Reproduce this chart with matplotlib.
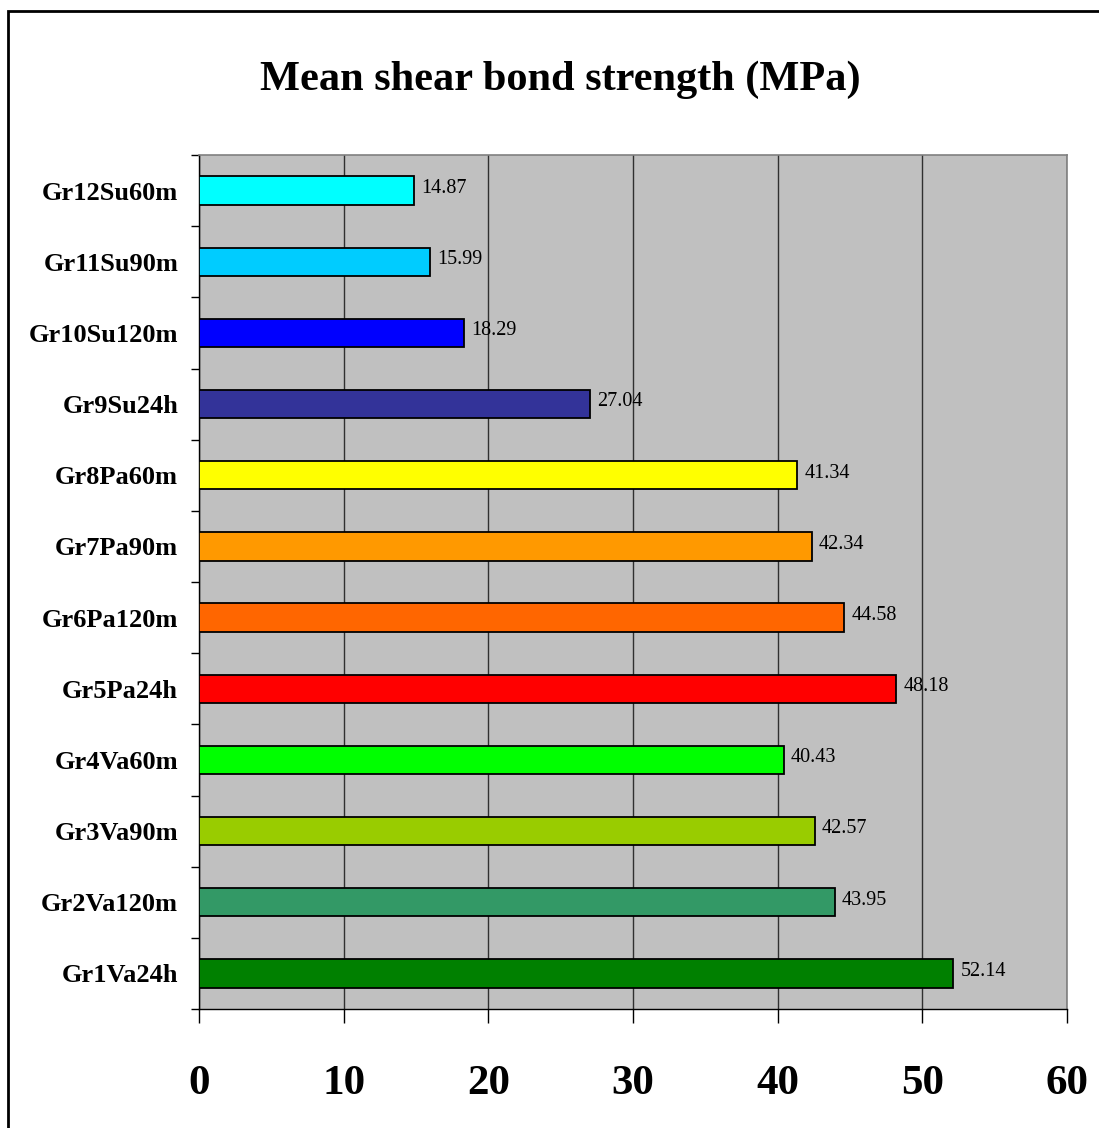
import matplotlib
matplotlib.use("Agg")
import matplotlib.pyplot as plt
from matplotlib.patches import Rectangle
import numpy as np

# groups listed bottom to top
groups = ["Gr1Va24h", "Gr2Va120m", "Gr3Va90m", "Gr4Va60m",
          "Gr5Pa24h", "Gr6Pa120m", "Gr7Pa90m", "Gr8Pa60m",
          "Gr9Su24h", "Gr10Su120m", "Gr11Su90m", "Gr12Su60m"]
strength = [52.14, 43.95, 42.57, 40.43,
            48.18, 44.58, 42.34, 41.34,
            27.04, 18.29, 15.99, 14.87]
colors = ["#008000", "#339966", "#99CC00", "#00FF00",
          "#FF0000", "#FF6600", "#FF9900", "#FFFF00",
          "#333399", "#0000FF", "#00CCFF", "#00FFFF"]
xticks = [0, 10, 20, 30, 40, 50, 60]

plt.rcParams['font.family'] = ['Liberation Serif', 'DejaVu Serif']

W, H = 1099, 1128
fig = plt.figure(figsize=(W / 100, H / 100), dpi=100)
ax = fig.add_axes([199 / W, 1 - 1009 / H, (1067 - 199) / W, (1009 - 155) / H])
ax.set_facecolor("#C0C0C0")

y = np.arange(len(groups))
ax.barh(y, strength, height=0.4, color=colors, edgecolor="black",
        linewidth=1.3, zorder=3)
for yi, v in zip(y, strength):
    ax.text(v + 0.5, yi + 0.03, f"{v:.2f}", va="center", ha="left",
            fontsize=14.5, zorder=4)

ax.set_xlim(0, 60)
ax.set_ylim(-0.5, len(groups) - 0.5)

ax.set_xticks(xticks)
ax.set_xticklabels([str(t) for t in xticks], fontsize=31, fontweight="bold")
ax.tick_params(axis="x", direction="out", length=10, width=1, pad=30)
ax.xaxis.grid(True, color="#303030", linewidth=1, zorder=1)

# category boundaries get ticks, centres get the labels
ax.set_yticks(np.arange(-0.5, len(groups), 1.0))
ax.set_yticklabels([])
ax.set_yticks(y, minor=True)
ax.set_yticklabels(groups, minor=True, fontsize=19, fontweight="bold")
ax.tick_params(axis="y", which="major", direction="out", length=6, width=1)
ax.tick_params(axis="y", which="minor", length=0, pad=15)

for side in ("top", "right"):
    ax.spines[side].set_color("#808080")
    ax.spines[side].set_linewidth(1.2)
for side in ("left", "bottom"):
    ax.spines[side].set_color("black")
    ax.spines[side].set_linewidth(1)

fig.text(560 / W, 1 - 80 / H, "Mean shear bond strength (MPa)", ha="center",
         va="center", fontsize=30.5, fontweight="bold")

# outer chart frame
fig.patches.append(Rectangle((8 / W, -0.1), 1.2, 1 - 11 / H + 0.1,
                             transform=fig.transFigure, fill=False,
                             edgecolor="black", linewidth=2))

fig.savefig("out.png", dpi=100, facecolor="white")
